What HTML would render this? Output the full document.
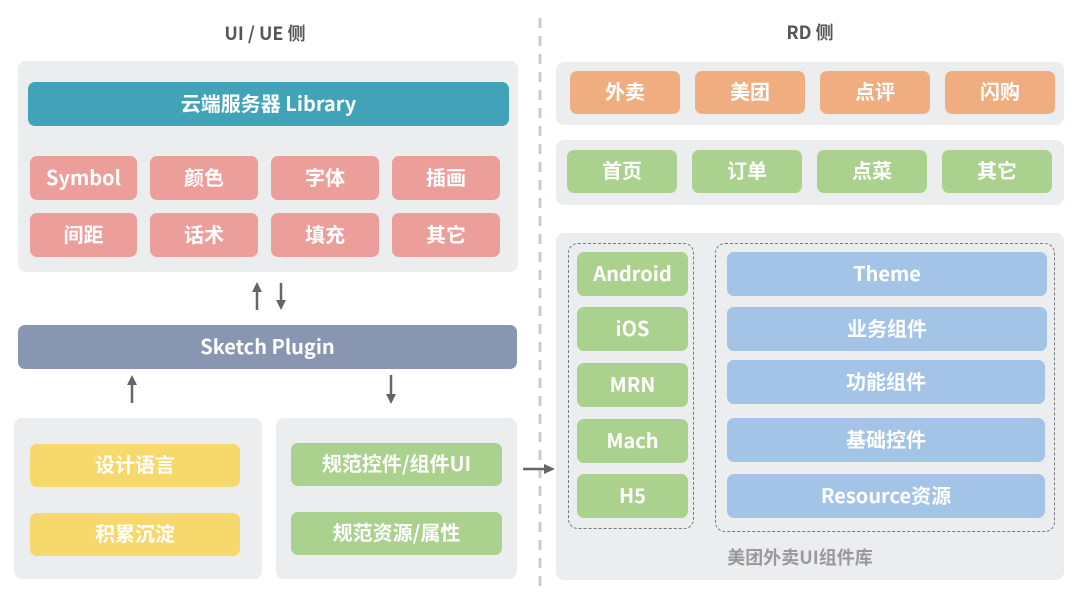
<!DOCTYPE html>
<html><head><meta charset="utf-8"><style>
*{margin:0;padding:0;box-sizing:border-box}
body{width:1080px;height:608px;background:#fff;position:relative;overflow:hidden;font-family:"Noto Sans CJK SC","Liberation Sans",sans-serif}
.a{position:absolute}
.p{position:absolute;background:#ecedef;border-radius:8px}
.t{position:absolute;border-radius:7px;color:#fff;font-size:20px;font-weight:bold;display:flex;align-items:center;justify-content:center;line-height:1;padding-bottom:3px}
.pk{background:#eb9e9a}.yl{background:#f7d86d}.gr{background:#abd18e}.or{background:#f0ae80}.bl{background:#a3c4e6}
.h{position:absolute;font-size:18px;font-weight:bold;color:#555;text-align:center;line-height:1}
.d{position:absolute;border:1.5px dashed #777;border-radius:10px}
</style></head><body>
<div class="h" style="left:165px;top:24px;width:200px">UI / UE 侧</div>
<div class="h" style="left:710px;top:23px;width:200px">RD 侧</div>
<svg class="a" style="left:0;top:0" width="1080" height="608">
<line x1="540" y1="18" x2="540" y2="592" stroke="#ccc" stroke-width="3" stroke-dasharray="10,8"/>
<g stroke="#666" stroke-width="2.5" fill="#666">
<line x1="257" y1="310" x2="257" y2="290"/><polygon points="252,292 262,292 257,282" stroke="none"/>
<line x1="281" y1="283" x2="281" y2="302"/><polygon points="276,300 286,300 281,310" stroke="none"/>
<line x1="132" y1="403" x2="132" y2="383"/><polygon points="127,385 137,385 132,375" stroke="none"/>
<line x1="391" y1="375" x2="391" y2="395"/><polygon points="386,394 396,394 391,404" stroke="none"/>
<line x1="523" y1="469" x2="546" y2="469"/><polygon points="544,464 544,474 555,469" stroke="none"/>
</g></svg>
<div class="p" style="left:18px;top:61px;width:500px;height:211px"></div>
<div class="t" style="left:28px;top:82px;width:481px;height:44px;background:#42a3b8">云端服务器 Library</div>
<div class="t pk" style="left:30px;top:156px;width:107px;height:44px">Symbol</div>
<div class="t pk" style="left:150px;top:156px;width:108px;height:44px">颜色</div>
<div class="t pk" style="left:271px;top:156px;width:108px;height:44px">字体</div>
<div class="t pk" style="left:392px;top:156px;width:108px;height:44px">插画</div>
<div class="t pk" style="left:30px;top:213px;width:107px;height:44px">间距</div>
<div class="t pk" style="left:150px;top:213px;width:108px;height:44px">话术</div>
<div class="t pk" style="left:271px;top:213px;width:108px;height:44px">填充</div>
<div class="t pk" style="left:392px;top:213px;width:108px;height:44px">其它</div>
<div class="t" style="left:18px;top:325px;width:499px;height:44px;background:#8896b1">Sketch Plugin</div>
<div class="p" style="left:14px;top:418px;width:248px;height:161px"></div>
<div class="t yl" style="left:30px;top:444px;width:210px;height:43px">设计语言</div>
<div class="t yl" style="left:30px;top:513px;width:210px;height:43px">积累沉淀</div>
<div class="p" style="left:276px;top:418px;width:241px;height:161px"></div>
<div class="t gr" style="left:291px;top:443px;width:211px;height:43px">规范控件/组件UI</div>
<div class="t gr" style="left:291px;top:512px;width:211px;height:43px">规范资源/属性</div>

<div class="p" style="left:556px;top:62px;width:508px;height:63px"></div>
<div class="t or" style="left:570px;top:71px;width:110px;height:43px">外卖</div>
<div class="t or" style="left:695px;top:71px;width:110px;height:43px">美团</div>
<div class="t or" style="left:820px;top:71px;width:110px;height:43px">点评</div>
<div class="t or" style="left:945px;top:71px;width:110px;height:43px">闪购</div>
<div class="p" style="left:556px;top:140px;width:508px;height:65px"></div>
<div class="t gr" style="left:567px;top:150px;width:110px;height:43px">首页</div>
<div class="t gr" style="left:692px;top:150px;width:110px;height:43px">订单</div>
<div class="t gr" style="left:817px;top:150px;width:110px;height:43px">点菜</div>
<div class="t gr" style="left:942px;top:150px;width:110px;height:43px">其它</div>
<div class="p" style="left:556px;top:233px;width:508px;height:347px"></div>
<div class="d" style="left:568px;top:243px;width:126px;height:286px"></div>
<div class="d" style="left:715px;top:243px;width:340px;height:289px"></div>
<div class="t gr" style="left:577px;top:252px;width:111px;height:44px">Android</div>
<div class="t gr" style="left:577px;top:307px;width:111px;height:44px">iOS</div>
<div class="t gr" style="left:577px;top:363px;width:111px;height:44px">MRN</div>
<div class="t gr" style="left:577px;top:419px;width:111px;height:44px">Mach</div>
<div class="t gr" style="left:577px;top:474px;width:111px;height:44px">H5</div>
<div class="t bl" style="left:727px;top:252px;width:320px;height:44px">Theme</div>
<div class="t bl" style="left:727px;top:307px;width:320px;height:44px">业务组件</div>
<div class="t bl" style="left:727px;top:360px;width:318px;height:44px">功能组件</div>
<div class="t bl" style="left:727px;top:418px;width:318px;height:44px">基础控件</div>
<div class="t bl" style="left:727px;top:474px;width:318px;height:44px">Resource资源</div>
<div class="h" style="left:700px;top:548px;width:200px;color:#999;font-size:18px">美团外卖UI组件库</div>
</body></html>
